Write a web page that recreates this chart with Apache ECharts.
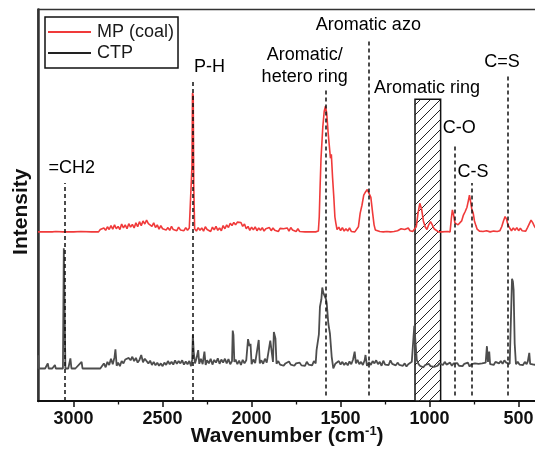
<!DOCTYPE html>
<html>
<head>
<meta charset="utf-8">
<script src="https://cdn.jsdelivr.net/npm/echarts@6/dist/echarts.min.js"></script>
<style>
html,body{margin:0;padding:0;background:#fff;}
#chart{width:535px;height:457px;}
</style>
</head>
<body>
<div id="chart"></div>
<script>
// ---- Data ----
const seriesNames = ['MP (coal)', 'CTP'];

const mpWavenumber = [3200,3190,3180,3170,3150,3120,3100,3060,3040,3000,2960,2900,2860,2850,2840,2830,2820,2810,2800,2790,2780,2770,2760,2750,2740,2730,2720,2710,2700,2690,2680,2670,2660,2650,2640,2630,2620,2610,2600,2590,2580,2570,2560,2550,2540,2530,2520,2510,2500,2490,2480,2470,2460,2450,2440,2430,2420,2410,2400,2390,2380,2370,2360,2350,2340,2335,2332,2328,2325,2320,2310,2300,2290,2280,2270,2260,2250,2240,2230,2220,2210,2200,2190,2180,2170,2160,2150,2140,2130,2120,2110,2100,2090,2080,2070,2060,2050,2040,2030,2020,2010,2000,1990,1980,1970,1960,1950,1940,1930,1920,1910,1900,1890,1880,1870,1860,1850,1840,1830,1820,1810,1800,1790,1780,1770,1760,1750,1740,1730,1720,1700,1680,1660,1640,1625,1620,1615,1610,1600,1592,1585,1578,1570,1562,1557,1552,1545,1538,1532,1527,1520,1510,1500,1490,1480,1470,1460,1450,1440,1430,1420,1410,1400,1390,1380,1370,1360,1350,1340,1330,1320,1312,1305,1295,1280,1260,1240,1220,1200,1180,1160,1150,1140,1120,1110,1095,1085,1075,1065,1055,1045,1035,1025,1015,1005,995,985,975,965,950,930,900,885,878,872,865,858,850,840,830,820,810,800,790,783,776,770,763,755,748,740,733,720,700,680,660,640,620,605,595,585,576,568,560,550,540,530,520,510,500,490,480,470,460,450,440,430,420,410,400];
const mpIntensity = [43.2,43.5,43.2,43.4,43.2,43.2,43.3,43.2,43.2,43.2,43.3,43.2,43.2,43.8,43.3,44.2,43.6,44.5,43.8,44.8,43.9,45.0,44.0,44.6,43.8,45.2,44.2,45.0,44.0,45.3,44.4,45.1,44.2,45.5,44.5,45.8,44.8,46.0,45.2,46.2,45.3,45.8,44.6,45.5,44.3,45.0,43.9,44.8,44.0,44.5,43.7,44.3,43.6,44.6,43.8,44.2,43.5,44.4,43.7,44.0,43.5,44.3,43.6,44.2,44.0,60.0,78.7,78.0,55.0,44.0,43.4,44.3,43.6,44.2,43.4,44.5,43.8,44.0,43.3,44.4,43.7,44.6,43.6,44.2,43.5,44.8,44.0,45.0,44.3,45.4,44.8,45.6,45.0,45.7,45.2,45.6,44.6,45.2,44.0,44.6,43.6,44.4,43.7,44.5,43.5,44.2,43.6,44.3,43.4,44.0,43.6,44.3,43.5,44.2,43.6,44.0,43.3,44.1,43.6,44.0,43.5,44.2,43.4,44.3,43.7,43.9,43.3,44.0,43.3,43.2,43.2,43.2,43.2,43.2,43.4,47.0,55.0,62.0,70.0,74.0,75.3,73.5,68.5,68.0,62.0,63.0,57.0,52.0,47.0,45.5,43.8,44.4,43.5,44.3,43.4,44.0,43.4,44.2,43.3,43.6,43.2,43.4,44.5,48.0,50.0,52.6,53.4,54.0,54.3,52.0,48.0,45.0,43.7,43.2,43.3,43.2,43.3,43.2,43.3,43.5,44.0,44.3,43.8,44.2,43.5,43.3,43.2,44.5,48.0,50.5,49.0,46.0,44.5,43.8,45.0,45.8,45.0,44.0,43.6,43.2,43.2,43.3,43.2,46.5,48.8,47.5,45.5,45.8,45.0,44.9,46.0,47.5,48.4,49.5,51.0,52.6,51.0,49.0,48.0,46.0,44.8,43.9,43.4,43.3,43.5,43.2,43.4,43.3,43.5,44.5,46.0,47.1,46.5,45.0,44.2,43.5,44.2,43.6,44.3,43.5,44.1,43.5,44.0,43.4,44.3,44.0,46.2,45.5,44.5,44.0];

const ctpWavenumber = [3200,3199,3196,3180,3170,3160,3145,3140,3120,3105,3100,3060,3055,3050,3046,3030,3018,3012,2990,2955,2950,2900,2850,2840,2830,2820,2810,2800,2790,2780,2770,2765,2758,2750,2740,2730,2720,2710,2700,2690,2680,2670,2660,2650,2640,2630,2620,2610,2600,2590,2580,2570,2560,2550,2540,2530,2520,2510,2500,2490,2480,2470,2460,2450,2440,2430,2420,2410,2400,2390,2380,2370,2360,2350,2340,2334,2330,2325,2318,2310,2300,2294,2285,2275,2265,2258,2250,2240,2230,2220,2210,2200,2190,2180,2170,2160,2150,2140,2130,2120,2110,2106,2102,2097,2090,2080,2070,2060,2050,2040,2030,2020,2012,2006,2000,1990,1980,1970,1960,1954,1945,1935,1925,1915,1905,1895,1880,1875,1866,1860,1850,1840,1830,1820,1810,1800,1790,1780,1770,1760,1750,1740,1730,1720,1710,1700,1690,1680,1670,1660,1650,1640,1635,1622,1616,1608,1603,1596,1592,1588,1582,1578,1569,1560,1550,1541,1530,1520,1510,1500,1490,1480,1470,1460,1450,1440,1430,1421,1414,1405,1395,1385,1375,1365,1360,1352,1340,1330,1320,1310,1300,1290,1280,1270,1260,1250,1240,1230,1220,1210,1200,1190,1180,1170,1160,1150,1140,1130,1120,1110,1100,1092,1086,1080,1072,1064,1055,1045,1035,1025,1015,1005,995,985,975,965,955,945,935,925,915,905,895,885,875,865,855,845,835,825,815,805,795,785,775,765,755,745,735,725,715,705,695,685,678,672,665,660,650,640,630,621,610,600,590,580,570,560,550,542,537,532,528,522,515,505,495,485,475,465,455,448,440,435,425,415,405,400];
const ctpIntensity = [8.3,11.7,8.3,8.3,8.6,8.3,9.6,8.3,8.3,9.2,8.3,8.3,39.0,38.5,8.3,8.3,10.9,8.3,8.3,10.0,8.3,8.3,8.3,8.8,9.6,8.6,10.0,9.2,10.8,9.4,11.2,13.2,9.0,9.8,8.9,10.2,9.6,10.6,10.1,11.0,10.4,11.3,10.2,11.0,9.8,10.5,11.75,9.9,10.8,11.3,9.6,10.3,9.2,10.0,9.1,9.8,9.0,9.6,8.9,9.8,9.2,10.2,9.4,10.0,9.3,10.4,9.5,10.2,9.6,10.4,9.3,10.1,9.4,10.2,8.9,10.5,16.9,12.5,9.6,10.8,13.0,9.5,10.8,9.4,12.6,9.2,10.4,9.6,10.8,9.3,10.5,9.8,10.9,9.5,10.6,9.8,10.8,9.6,10.7,9.4,10.2,18.0,16.9,10.0,10.6,9.4,10.3,9.2,10.5,9.6,10.4,15.8,14.0,14.6,9.4,10.6,9.7,10.2,15.6,9.6,10.4,9.5,10.8,9.8,10.2,15.4,10.0,17.6,16.0,9.5,10.2,9.3,9.8,9.0,9.6,9.1,10.1,9.3,9.7,9.0,9.6,9.2,9.8,9.1,9.5,9.0,10.0,9.3,9.8,9.1,10.2,9.6,13.0,17.0,24.1,26.0,29.0,27.5,27.1,27.9,26.0,25.0,19.8,17.3,11.3,8.35,9.5,9.0,10.2,9.3,10.0,9.2,9.8,9.1,10.1,9.4,10.6,12.6,9.6,10.5,9.4,10.0,9.2,10.4,11.75,9.0,9.9,9.2,10.2,9.6,10.4,9.4,10.0,9.0,10.3,9.3,9.8,9.2,10.4,9.5,10.0,9.1,9.8,9.2,9.5,9.0,9.6,8.8,9.4,9.0,10.0,9.5,19.2,19.0,10.5,9.6,9.0,9.4,8.6,9.2,8.8,9.5,8.9,9.4,8.7,9.2,9.0,9.6,9.9,9.2,10.0,9.3,9.2,9.8,9.0,9.6,9.1,9.7,9.0,9.4,8.9,9.5,9.2,9.8,8.8,9.4,9.0,9.6,9.3,9.5,9.0,9.6,9.2,9.8,14.0,10.0,12.6,9.4,9.8,9.2,10.0,10.5,9.6,10.2,9.5,10.4,9.8,10.3,9.5,9.8,31.2,30.5,28.4,14.7,9.4,10.0,9.3,9.8,9.2,10.0,9.4,10.2,12.3,9.5,9.9,9.3,9.7,9.2];

// Band assignments (dashed marker lines): wavenumber, bottom and top intensity
const assignWavenumber = [3050, 2331, 1583, 1344, 861, 764, 562];
const assignTop = [55.7, 82.0, 80.0, 92.0, 65.0, 55.7, 83.3];
const assignBottom = [0, 0, 1.4, 1.4, 1.4, 1.4, 1.4];

// Annotation texts and their anchor (wavenumber, intensity)
const labelTexts = ['=CH2', 'P-H', 'Aromatic/\nhetero ring', 'Aromatic azo', 'Aromatic ring', 'C-O', 'C-S', 'C=S'];
const labelWavenumber = [3011, 2237, 1702, 1344, 1015, 833, 756, 593];
const labelIntensity = [59.5, 85.3, 85.6, 96.0, 79.9, 69.6, 58.6, 86.7];

// Hatched band (Aromatic ring region)
const bandRange = [1082, 938];
const bandTop = 77.1;

const xTicks = [3000, 2500, 2000, 1500, 1000, 500];
const xMinorTicks = [2750, 2250, 1750, 1250, 750];

// ---- Build ----
function zip(a, b) { return a.map((v, i) => [v, b[i]]); }

function hatchPattern() {
  const c = document.createElement('canvas');
  c.width = 10; c.height = 10;
  const g = c.getContext('2d');
  g.fillStyle = '#ffffff';
  g.fillRect(0, 0, 10, 10);
  g.strokeStyle = '#222';
  g.lineWidth = 1;
  g.beginPath();
  g.moveTo(-1, 11); g.lineTo(11, -1);
  g.moveTo(-1, 1); g.lineTo(1, -1);
  g.moveTo(9, 11); g.lineTo(11, 9);
  g.stroke();
  return c;
}

const FONT = 'Liberation Sans, Arial, sans-serif';
const chart = echarts.init(document.getElementById('chart'), null, {renderer: 'canvas'});

const option = {
  animation: false,
  backgroundColor: '#fff',
  grid: {
    left: 38, top: 9.5, width: 498.4, height: 391.5,
    containLabel: false, outerBoundsMode: 'none',
    show: true, borderColor: '#333', borderWidth: 1.5, backgroundColor: 'transparent'
  },
  legend: {
    orient: 'vertical',
    left: 45, top: 17,
    padding: [6, 4, 6, 3],
    borderColor: '#111', borderWidth: 1.5,
    itemWidth: 43, itemHeight: 2, itemGap: 3,
    icon: 'rect',
    textStyle: {fontFamily: FONT, fontSize: 18, color: '#1a1a1a', lineHeight: 18, padding: [0,0,0,1]},
    data: [
      {name: seriesNames[0], itemStyle: {color: '#f03a3a'}},
      {name: seriesNames[1], itemStyle: {color: '#222'}}
    ]
  },
  xAxis: [{
    type: 'value', inverse: true, min: 400, max: 3200,
    axisLine: {show: true, lineStyle: {color: '#111', width: 2}},
    axisTick: {show: true, length: 6, customValues: xTicks, lineStyle: {color: '#111', width: 1.5}},
    splitLine: {show: false},
    axisLabel: {
      margin: 9, fontFamily: FONT, fontWeight: 'bold', fontSize: 18, color: '#111',
      customValues: xTicks, formatter: v => String(v)
    },
    name: '{b|Wavenumber (cm}{s|-1}{b|)}',
    nameLocation: 'middle', nameGap: 24, nameMoveOverlap: false,
    nameTextStyle: {
      rich: {
        b: {fontFamily: FONT, fontWeight: 'bold', fontSize: 21, color: '#111'},
        s: {fontFamily: FONT, fontWeight: 'bold', fontSize: 13, color: '#111', padding: [0, 0, 10, 0]}
      }
    }
  }, {
    type: 'value', inverse: true, min: 400, max: 3200, position: 'bottom',
    axisLine: {show: false},
    axisTick: {show: true, length: 3.5, customValues: xMinorTicks, lineStyle: {color: '#111', width: 1.3}},
    axisLabel: {show: false},
    splitLine: {show: false}
  }],
  yAxis: {
    type: 'value', min: 0, max: 100,
    axisLine: {show: true, lineStyle: {color: '#333', width: 2.5}},
    axisTick: {show: false}, axisLabel: {show: false}, splitLine: {show: false},
    name: 'Intensity', nameLocation: 'middle', nameGap: 6,
    nameTextStyle: {fontFamily: FONT, fontWeight: 'bold', fontSize: 21, color: '#111', padding: [0, 0, 0, -13]}
  },
  series: [
    {
      name: seriesNames[1], type: 'line', symbol: 'none', z: 3,
      lineStyle: {color: '#4d4d4d', width: 1.8}, itemStyle: {color: '#4d4d4d'},
      data: zip(ctpWavenumber, ctpIntensity)
    },
    {
      name: seriesNames[0], type: 'line', symbol: 'none', z: 4,
      lineStyle: {color: '#f03a3a', width: 1.6}, itemStyle: {color: '#f03a3a'},
      data: zip(mpWavenumber, mpIntensity),
      markArea: {
        silent: true,
        itemStyle: {color: {image: hatchPattern(), repeat: 'repeat'}, borderColor: '#111', borderWidth: 1.5},
        data: [[{coord: [bandRange[0], 0]}, {coord: [bandRange[1], bandTop]}]]
      }
    },
    {
      name: 'markers', type: 'line', data: [], z: 5, symbol: 'none',
      markLine: {
        silent: true, symbol: 'none',
        lineStyle: {color: '#111', width: 1.5, type: [4, 3]},
        label: {show: false},
        data: assignWavenumber.map((w, i) => [{coord: [w, assignBottom[i]]}, {coord: [w, assignTop[i]]}])
      }
    },
    {
      name: 'labels', type: 'scatter', symbolSize: 1, z: 6, silent: true,
      itemStyle: {color: 'rgba(0,0,0,0)', opacity: 1},
      label: {
        show: true, position: 'inside', formatter: p => p.name, opacity: 1,
        fontFamily: FONT, fontSize: 18, lineHeight: 22, color: '#000', align: 'center'
      },
      data: labelTexts.map((t, i) => ({name: t, value: [labelWavenumber[i], labelIntensity[i]]}))
    }
  ]
};
chart.setOption(option);
</script>
</body>
</html>
